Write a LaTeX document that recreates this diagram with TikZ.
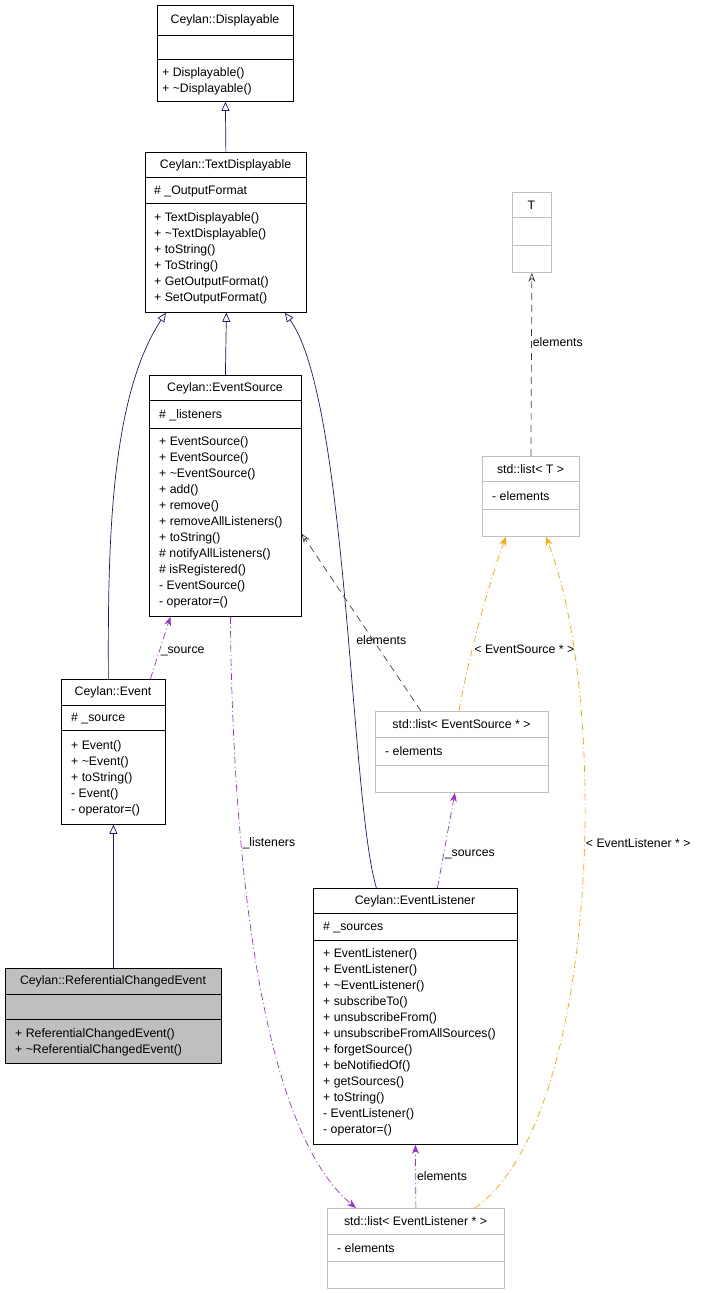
\documentclass[tikz,border=0pt]{standalone}
\usepackage{fontspec}
\setmainfont{Liberation Sans}
\usetikzlibrary{arrows.meta,calc}
\definecolor{edgeblue}{HTML}{191970}
\definecolor{usepurple}{HTML}{9A32CD}
\definecolor{tplorange}{HTML}{FFA500}
\definecolor{tplgray}{HTML}{404040}
\definecolor{boxgray}{HTML}{BFBFBF}

% class box: name, left, top, right, bottom, first divider, second divider, style
\newcommand{\umlbox}[8]{%
  \node[box, #8, minimum width={(#4-#2)*1pt}, minimum height={(#5-#3)*1pt}, anchor=north west] (#1) at (#2,#3) {};
  \draw[#8, fill=none] (#2,#6) -- (#4,#6) (#2,#7) -- (#4,#7);
}
\newcommand{\umltitle}[3]{\node[txt, anchor=center] at ({(#1)},#2) {#3};}
\newcommand{\umlline}[3]{\node[txt] at (#1,#2) {#3};}

\begin{document}
\begin{tikzpicture}[x=1pt,y=-1pt,
  box/.style={draw, inner sep=0pt, line width=0.8pt},
  plain/.style={draw=black},
  tmpl/.style={draw=boxgray},
  sel/.style={draw=black, fill=boxgray},
  txt/.style={anchor=west, inner sep=0pt, font=\fontsize{12.3}{13}\selectfont},
  lbl/.style={inner sep=1pt, font=\fontsize{12.3}{13}\selectfont},
  inherit/.style={draw=edgeblue, line width=0.7pt, -{Triangle[open, length=9pt, width=8pt]}},
  uses/.style={draw=usepurple, line width=0.7pt, dash pattern=on 7pt off 3pt on 1pt off 3pt, -{Stealth[length=9pt, width=7pt]}},
  tplarg/.style={draw=tplorange, line width=0.7pt, dash pattern=on 7pt off 3pt on 1pt off 3pt, -{Stealth[length=9pt, width=7pt]}},
  tplinst/.style={draw=tplgray, line width=0.7pt, dash pattern=on 7pt off 5pt, -{Stealth[open, length=9pt, width=7pt]}},
]
\useasboundingbox (0,0) rectangle (719,1293);

% Ceylan::Displayable
\umlbox{disp}{157}{5}{293}{101}{35}{59}{plain}
\umltitle{225}{20}{Ceylan::Displayable}
\umlline{162}{73}{+ Displayable()}
\umlline{162}{89}{+ \textasciitilde Displayable()}

% Ceylan::TextDisplayable
\umlbox{tdisp}{145}{152}{306}{312}{177}{203}{plain}
\umltitle{225.5}{165}{Ceylan::TextDisplayable}
\umlline{154}{191}{\# \_OutputFormat}
\foreach \t [count=\i from 0] in {+ TextDisplayable(), + \textasciitilde TextDisplayable(), + toString(), + ToString(), + GetOutputFormat(), + SetOutputFormat()}
  {\umlline{154}{218+16*\i}{\t}}

% Ceylan::EventSource
\umlbox{esrc}{149}{375}{301}{616}{400}{428}{plain}
\umltitle{225}{388}{Ceylan::EventSource}
\umlline{159}{415}{\# \_listeners}
\foreach \t [count=\i from 0] in {+ EventSource(), + EventSource(), + \textasciitilde EventSource(), + add(), + remove(), + removeAllListeners(), + toString(), \# notifyAllListeners(), \# isRegistered(), - EventSource(), - operator=()}
  {\umlline{159}{442+16*\i}{\t}}

% Ceylan::Event
\umlbox{evt}{61}{679}{165}{824}{705}{730}{plain}
\umltitle{113}{692}{Ceylan::Event}
\umlline{71}{719}{\# \_source}
\foreach \t [count=\i from 0] in {+ Event(), + \textasciitilde Event(), + toString(), - Event(), - operator=()}
  {\umlline{71}{746+16*\i}{\t}}

% Ceylan::ReferentialChangedEvent
\umlbox{rce}{5}{968}{221}{1063}{994}{1019}{sel}
\umltitle{113}{981}{Ceylan::ReferentialChangedEvent}
\umlline{15}{1034}{+ ReferentialChangedEvent()}
\umlline{15}{1050}{+ \textasciitilde ReferentialChangedEvent()}

% T
\umlbox{tpar}{512}{192}{551}{272}{217}{245}{tmpl}
\umltitle{531.5}{205}{T}

% std::list< T >
\umlbox{listt}{482}{456}{579}{536}{481}{509}{tmpl}
\umltitle{530.5}{469}{std::list< T >}
\umlline{492}{496}{- elements}

% std::list< EventSource * >
\umlbox{listes}{375}{711}{548}{792}{737}{765}{tmpl}
\umltitle{461.5}{724}{std::list< EventSource * >}
\umlline{385}{751}{- elements}

% Ceylan::EventListener
\umlbox{elis}{313}{888}{517}{1144}{913}{940}{plain}
\umltitle{415}{901}{Ceylan::EventListener}
\umlline{323}{928}{\# \_sources}
\foreach \t [count=\i from 0] in {+ EventListener(), + EventListener(), + \textasciitilde EventListener(), + subscribeTo(), + unsubscribeFrom(), + unsubscribeFromAllSources(), + forgetSource(), + beNotifiedOf(), + getSources(), + toString(), - EventListener(), - operator=()}
  {\umlline{323}{954+16*\i}{\t}}

% std::list< EventListener * >
\umlbox{listel}{327}{1208}{504}{1288}{1234}{1261}{tmpl}
\umltitle{415.5}{1221}{std::list< EventListener * >}
\umlline{337}{1248}{- elements}

% inheritance
\draw[inherit] (tdisp.north) -- (disp.south);
\draw[inherit] (esrc.north) -- ([xshift=0.5pt]tdisp.south);
\draw[inherit] ([xshift=-5pt]evt.north) .. controls (108,560) and (108,400) .. ([xshift=-60pt]tdisp.south);
\draw[inherit] ([xshift=-39pt]elis.north) .. controls (350,800) and (348,400) .. ([xshift=59pt]tdisp.south);
\draw[inherit] (rce.north) -- (evt.south);

% usage and template edges
\draw[uses] ([xshift=37pt]evt.north) -- node[lbl, right, pos=0.45] {\_source} ([xshift=-55pt]esrc.south);
\draw[uses] ([xshift=5pt]esrc.south) .. controls (232,800) and (250,1120) .. node[lbl, right, pos=0.35] {\_listeners} ([xshift=-60pt]listel.north);
\draw[tplinst] ([xshift=-41pt]listes.north) -- node[lbl, pos=0.4, xshift=8pt] {elements} ([yshift=-38pt]esrc.east);
\draw[tplarg] ([xshift=-3pt]listes.north) .. controls (470,650) and (490,580) .. node[lbl, pos=0.33, xshift=52pt] {< EventSource * >} ([xshift=-25pt]listt.south);
\draw[uses] ([xshift=22pt]elis.north) -- node[lbl, right, pos=0.35] {\_sources} ([xshift=-7pt]listes.south);
\draw[uses] (listel.north) -- node[lbl, right, pos=0.5] {elements} (elis.south);
\draw[tplarg] ([xshift=59pt]listel.north) .. controls (600,1120) and (610,700) .. node[lbl, pos=0.57, xshift=54pt] {< EventListener * >} ([xshift=15pt]listt.south);
\draw[tplinst] (listt.north) -- node[lbl, right, pos=0.62] {elements} (tpar.south);
\end{tikzpicture}
\end{document}
